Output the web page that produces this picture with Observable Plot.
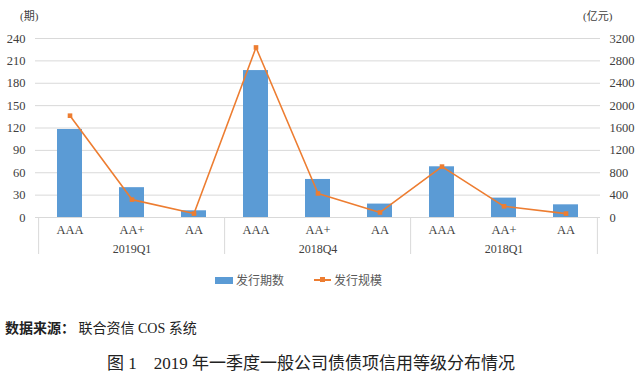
<!DOCTYPE html>
<html>
<head>
<meta charset="utf-8">
<script src="https://cdn.jsdelivr.net/npm/d3@7"></script>
<script src="https://cdn.jsdelivr.net/npm/@observablehq/plot@0.6"></script>
<style>
  html, body { margin: 0; padding: 0; background: #fff; }
  body { width: 640px; height: 375px; position: relative; overflow: hidden; font-family: "Liberation Serif", "Noto Sans CJK SC", serif; }
  #chart { position: absolute; left: 0; top: 0; }
  #chart svg text { font-family: "Liberation Serif", "Noto Sans CJK SC", serif !important; font-variant: normal !important; }
  .unit { position: absolute; top: 8px; font-size: 11px; line-height: 16px; color: #404040; white-space: nowrap; }
  .legend { position: absolute; top: 271px; left: 0; width: 640px; height: 18px; font-family: "Noto Sans CJK SC", sans-serif; font-size: 12px; color: #595959; }
  .legend .item { position: absolute; top: 0; height: 18px; line-height: 18px; }
  .swatch-bar { position: absolute; width: 18px; height: 7px; background: #5B9BD5; top: 6px; }
  .swatch-line { position: absolute; width: 17px; height: 2px; background: #ED7D31; top: 8px; }
  .swatch-line::after { content: ""; position: absolute; left: 6px; top: -2px; width: 5px; height: 5px; background: #ED7D31; }
  .source { position: absolute; left: 5px; top: 317px; font-size: 14px; color: #222; white-space: nowrap; }
  .source b { font-weight: bold; }
  .title { position: absolute; left: 107px; top: 349px; font-size: 17px; color: #222; white-space: nowrap; }
</style>
</head>
<body>
<div id="chart"></div>
<div class="unit" style="left:20px;">(期)</div>
<div class="unit" style="left:583px;">(亿元)</div>
<div class="legend">
  <div class="item" style="left:215px;"><span class="swatch-bar" style="left:0"></span><span style="margin-left:21px">发行期数</span></div>
  <div class="item" style="left:314px;"><span class="swatch-line" style="left:0"></span><span style="margin-left:20px">发行规模</span></div>
</div>
<div class="source"><b>数据来源：</b> 联合资信 COS 系统</div>
<div class="title">图 1&nbsp;&nbsp;&nbsp; 2019 年一季度一般公司债债项信用等级分布情况</div>
<script>
// ---- data ----
const groups = ["2019Q1", "2018Q4", "2018Q1"];
const ratings = ["AAA", "AA+", "AA"];
const counts = [118, 40, 9, 197, 51, 18, 68, 26, 17];       // 发行期数 (期)
const amounts = [1820, 320, 70, 3040, 430, 90, 910, 200, 70]; // 发行规模 (亿元)
const leftTicks = [0, 30, 60, 90, 120, 150, 180, 210, 240];
const leftMax = 240, rightMax = 3200;

// ---- table ----
const rows = [];
groups.forEach((g, gi) => ratings.forEach((r, ri) => {
  const i = gi * ratings.length + ri;
  rows.push({key: g + "|" + r, group: g, rating: r, count: counts[i], amount: amounts[i], amountScaled: amounts[i] * leftMax / rightMax});
}));
const keys = rows.map(d => d.key);

const width = 640, height = 265;
const marginLeft = 35, marginRight = 40, marginTop = 38, marginBottom = 48;
const step = (width - marginLeft - marginRight) / keys.length;

const firstKeys = groups.map(g => g + "|" + ratings[0]);
const midKeys = groups.map(g => ({key: g + "|" + ratings[1], group: g}));
const lastKey = [keys[keys.length - 1]];

const chart = Plot.plot({
  width, height, marginLeft, marginRight, marginTop, marginBottom,
  style: {fontFamily: "'Liberation Serif', 'Noto Sans CJK SC', serif", fontSize: "12px", color: "#404040", background: "white"},
  x: {domain: keys, paddingInner: 0.6, paddingOuter: 0.3, axis: null},
  y: {domain: [0, leftMax], axis: null},
  marks: [
    Plot.gridY(leftTicks, {stroke: "#d9d9d9", strokeOpacity: 1}),
    Plot.ruleX(firstKeys, {x: d => d, y1: 0, y2: 0, insetBottom: -37, dx: -step / 2, stroke: "#d9d9d9", clip: false}),
    Plot.ruleX(lastKey, {x: d => d, y1: 0, y2: 0, insetBottom: -37, dx: step / 2, stroke: "#d9d9d9", clip: false}),
    Plot.barY(rows, {x: "key", y: "count", fill: "#5B9BD5"}),
    Plot.line(rows, {x: "key", y: "amountScaled", stroke: "#ED7D31", strokeWidth: 1.6}),
    Plot.dot(rows, {x: "key", y: "amountScaled", symbol: "square", r: 2.6, fill: "#ED7D31", stroke: "none"}),
    Plot.axisX({tickSize: 0, tickPadding: 8, tickFormat: d => d.split("|")[1], fontSize: 12.5, label: null}),
    Plot.text(midKeys, {x: "key", y: 0, dy: 32, text: "group", fontSize: 12, fill: "#404040"}),
    Plot.axisY(leftTicks, {anchor: "left", tickSize: 0, tickPadding: 10, fontSize: 12.5, tickFormat: d => String(d), label: null}),
    Plot.axisY(leftTicks, {anchor: "right", tickSize: 0, tickPadding: 9, fontSize: 12.5, tickFormat: d => String(Math.round(d * rightMax / leftMax)), label: null})
  ]
});
document.getElementById("chart").appendChild(chart);
</script>
</body>
</html>
